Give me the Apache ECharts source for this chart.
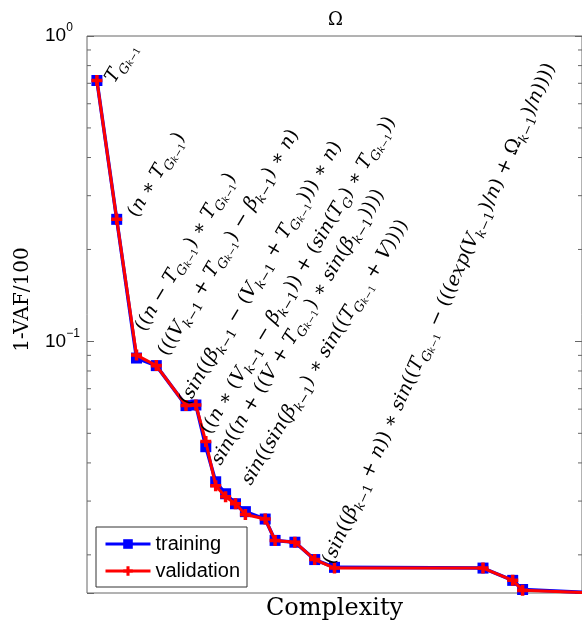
<!DOCTYPE html>
<html>
<head>
<meta charset="utf-8">
<script src="https://cdn.jsdelivr.net/npm/echarts@6/dist/echarts.min.js"></script>
<style>
html,body{margin:0;padding:0;background:#fff;}
#chart{width:582px;height:626px;}
</style>
</head>
<body>
<div id="chart"></div>
<script>
// ---- data ----
const COMPLEXITY = [2, 6, 10, 14, 20, 22, 24, 26, 28, 30, 32, 36, 38, 42, 46, 50, 80, 86, 88, 103];
const TRAINING   = [0.715, 0.251, 0.0882, 0.0833, 0.0616, 0.0619, 0.0452, 0.0347, 0.0317, 0.0294, 0.0277, 0.0262, 0.0223, 0.0220, 0.0193, 0.0182, 0.0181, 0.0165, 0.0154, 0.0150];
const VALIDATION = [0.715, 0.251, 0.0902, 0.0833, 0.0617, 0.0619, 0.0470, 0.0337, 0.0310, 0.0294, 0.0271, 0.0262, 0.0223, 0.0220, 0.0193, 0.0181, 0.0181, 0.0165, 0.0153, 0.0150];
const SERIES_NAMES = ['training', 'validation'];
const Y_MINOR_TICKS = [0.02, 0.03, 0.04, 0.05, 0.06, 0.07, 0.08, 0.09, 0.2, 0.3, 0.4, 0.5, 0.6, 0.7, 0.8, 0.9];
const TITLE = 'Ω';
const X_NAME = 'Complexity';
const Y_NAME = '1-VAF/100';
// annotation expressions (markup: _{...} = subscript) and the point each is attached to
const LABEL_TEXTS = [
  'T_{G_{k−1}}',
  '(n ∗ T_{G_{k−1}})',
  '((n − T_{G_{k−1}}) ∗ T_{G_{k−1}})',
  '(((V_{k−1} + T_{G_{k−1}}) − β_{k−1}) ∗ n)',
  '(sin((β_{k−1} − (V_{k−1} + T_{G_{k−1}}))) ∗ n)',
  '((n ∗ (V_{k−1} − β_{k−1})) + (sin(T_{G}) ∗ T_{G_{k−1}}))',
  'sin((n + ((V + T_{G_{k−1}}) ∗ sin(β_{k−1}))))',
  'sin((sin(β_{k−1}) ∗ sin((T_{G_{k−1}} + V))))',
  '(sin((β_{k−1} + n)) ∗ sin((T_{G_{k−1}} − (((exp(V_{k−1})/n) + Ω_{k−1})/n))))'
];
const LABEL_POINTS = [0, 1, 2, 3, 4, 6, 7, 9, 14];

// ---- layout (not data) ----
// [offset along text direction, offset perpendicular (down in text frame)], rotation in degrees
const LABEL_OFFSETS = [[6,12],[11,12],[26,-11],[13,0],[1,-3],[12,-7],[16,-9],[23,-1],[2,14]];
const LABEL_ANGLES = [59.5, 59.5, 59.5, 59.5, 59.5, 59.5, 59, 59, 66];
const GRID = {left: 87, top: 36, width: 496, height: 558.6};

function toRich(s) {
  let out = '', level = 0, cur = '', curStyle = null;
  const flush = () => { if (cur) out += '{' + curStyle + '|' + cur + '}'; cur = ''; };
  for (let i = 0; i < s.length; i++) {
    const c = s[i];
    if (c === '_' && s[i + 1] === '{') { flush(); level++; i++; continue; }
    if (c === '}') { flush(); level--; continue; }
    const st = (/[A-Za-zβ]/.test(c) ? 'i' : 'r') + level;
    if (st !== curStyle) { flush(); curStyle = st; }
    cur += c;
  }
  flush();
  return out;
}

const SERIF = 'DejaVu Serif';
const LBL = 19;
const richStyles = {
  i0: {fontFamily: SERIF, fontStyle: 'italic', fontSize: LBL, lineHeight: 26, fill: '#000'},
  r0: {fontFamily: SERIF, fontSize: LBL, lineHeight: 26, fill: '#000'},
  i1: {fontFamily: SERIF, fontStyle: 'italic', fontSize: 13, lineHeight: 13, verticalAlign: 'bottom', fill: '#000'},
  r1: {fontFamily: SERIF, fontSize: 13, lineHeight: 13, verticalAlign: 'bottom', fill: '#000'},
  i2: {fontFamily: SERIF, fontStyle: 'italic', fontSize: 9.5, lineHeight: 7, verticalAlign: 'bottom', fill: '#000'},
  r2: {fontFamily: SERIF, fontSize: 9.5, lineHeight: 7, verticalAlign: 'bottom', fill: '#000'}
};

const trainingData = COMPLEXITY.map((x, i) => [x, TRAINING[i]]);
const validationData = COMPLEXITY.map((x, i) => [x, VALIDATION[i]]);

const PLUS = 'path://M3.4,0H6.6V3.4H10V6.6H6.6V10H3.4V6.6H0V3.4H3.4Z';
const AXIS_COLOR = '#666';

function powLabel(v) {
  const l = Math.log10(v);
  const r = Math.round(l);
  if (Math.abs(l - r) > 1e-6) return '';
  return '{b|10}{s|' + (r < 0 ? '−' + (-r) : r) + '}';
}

const chart = echarts.init(document.getElementById('chart'), null, {renderer: 'canvas'});
chart.setOption({
  animation: false,
  backgroundColor: '#fff',
  title: {
    text: TITLE, left: 323, top: 6,
    textStyle: {fontFamily: SERIF, fontSize: 18, fontWeight: 'normal', color: '#000'}
  },
  grid: Object.assign({show: true, borderColor: AXIS_COLOR, borderWidth: 1, backgroundColor: 'transparent'}, GRID),
  legend: {
    data: SERIES_NAMES,
    orient: 'vertical',
    left: 96, top: 527,
    padding: [7, 7, 6, 8],
    itemGap: 7,
    itemWidth: 45,
    itemHeight: 12,
    lineStyle: {width: 3},
    backgroundColor: '#fff',
    borderColor: '#333',
    borderWidth: 1,
    borderRadius: 0,
    textStyle: {fontFamily: 'Liberation Sans', fontSize: 20, color: '#000'}
  },
  xAxis: {
    type: 'value', min: 0, max: 100,
    name: X_NAME, nameLocation: 'middle', nameGap: 4,
    nameTextStyle: {fontFamily: SERIF, fontSize: 24, color: '#000', verticalAlign: 'top'},
    axisLine: {show: false}, axisTick: {show: false}, axisLabel: {show: false}, splitLine: {show: false}
  },
  yAxis: [{
    type: 'log', logBase: 10, min: 0.015, max: 1,
    name: Y_NAME, nameLocation: 'middle', nameGap: 54, nameRotate: 90,
    nameTextStyle: {fontFamily: SERIF, fontSize: 20, color: '#000', padding: [0, 0, 0, 30]},
    axisLine: {show: false},
    axisTick: {show: true, inside: true, length: 7, lineStyle: {color: AXIS_COLOR}},
    axisLabel: {
      show: true, align: 'left', margin: 42, formatter: powLabel,
      showMinLabel: true, showMaxLabel: true,
      rich: {
        b: {fontFamily: 'Liberation Sans', fontSize: 19, lineHeight: 28, color: '#000'},
        s: {fontFamily: 'Liberation Sans', fontSize: 12, lineHeight: 10, verticalAlign: 'top', color: '#000'}
      }
    },
    splitLine: {show: false}
  }, {
    type: 'log', logBase: 10, min: 0.015, max: 1, position: 'right',
    axisLine: {show: false},
    axisTick: {show: true, inside: true, length: 7, lineStyle: {color: AXIS_COLOR}},
    axisLabel: {show: false}, splitLine: {show: false}
  }],
  series: [{
    name: SERIES_NAMES[0], type: 'line', data: trainingData, clip: true,
    symbol: 'rect', symbolSize: 11,
    lineStyle: {color: '#0000ff', width: 3.5},
    itemStyle: {color: '#0000ff'},
    z: 3
  }, {
    name: SERIES_NAMES[1], type: 'line', data: validationData, clip: true,
    symbol: PLUS, symbolSize: 11,
    lineStyle: {color: '#ff0000', width: 3},
    itemStyle: {color: '#ff0000'},
    z: 4
  }, {
    type: 'custom', silent: true, z: 2,
    data: Y_MINOR_TICKS.map(v => [0, v]),
    renderItem: function (params, api) {
      const cs = params.coordSys;
      const y = api.coord([0, api.value(1)])[1];
      return {type: 'group', children: [
        {type: 'line', shape: {x1: cs.x, y1: y, x2: cs.x + 4, y2: y}, style: {stroke: AXIS_COLOR, lineWidth: 1}},
        {type: 'line', shape: {x1: cs.x + cs.width, y1: y, x2: cs.x + cs.width - 4, y2: y}, style: {stroke: AXIS_COLOR, lineWidth: 1}}
      ]};
    }
  }]
});

// annotations attached to the training points (positions come from the chart's own scales)
const graphics = LABEL_POINTS.map((pi, k) => {
  const p = chart.convertToPixel({seriesIndex: 0}, [COMPLEXITY[pi], TRAINING[pi]]);
  const th = LABEL_ANGLES[k] * Math.PI / 180;
  const u = [Math.cos(th), -Math.sin(th)], v = [Math.sin(th), Math.cos(th)];
  const [a, b] = LABEL_OFFSETS[k];
  return {
    type: 'text', silent: true, z: 10,
    x: p[0] + a * u[0] + b * v[0],
    y: p[1] + a * u[1] + b * v[1],
    rotation: th,
    style: {text: toRich(LABEL_TEXTS[k]), rich: richStyles, align: 'left', verticalAlign: 'middle', fill: '#000'}
  };
});
chart.setOption({graphic: graphics});
</script>
</body>
</html>
